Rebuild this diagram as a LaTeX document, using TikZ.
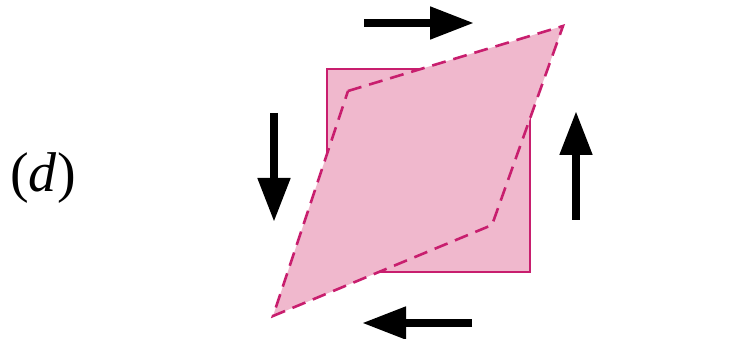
\documentclass[tikz,border=0pt]{standalone}
\usepackage{fontspec}
\setmainfont{Liberation Serif}
\usetikzlibrary{arrows.meta}
\definecolor{shearfill}{RGB}{240,184,205}
\definecolor{shearline}{RGB}{200,30,110}
\tikzset{
body/.style={
fill=shearfill,
draw=shearline,
line width=2pt
},
sheared/.style={
draw=shearline,
line width=2.6pt,
dash pattern=on 14pt off 8pt,
line join=miter
},
force/.style={
-{Triangle[length=44pt,width=31pt]},
line width=8pt,
black
}
}

\begin{document}
\begin{tikzpicture}[x=1pt,y=-1pt]
\useasboundingbox (0,0) rectangle (747,339);
% undeformed square
\coordinate (sq1) at (327,69);
\coordinate (sq2) at (530,272);
% sheared shape
\coordinate (tl) at (348,91);
\coordinate (tr) at (563,26);
\coordinate (br) at (492,225);
\coordinate (bl) at (273,316);

\draw[body] (sq1) rectangle (sq2);
\fill[shearfill] (tl)--(tr)--(br)--(bl)--cycle;
\draw[sheared] (tl)--(tr)--(br)--(bl)--cycle;

% shear forces
\coordinate (ta) at (364,23);
\coordinate (tb) at (474,23);
\coordinate (ba) at (472,323);
\coordinate (bb) at (362,323);
\coordinate (la) at (274,113);
\coordinate (lb) at (274,222);
\coordinate (ra) at (576,220);
\coordinate (rb) at (576,111);
\foreach \x/\y in {ta/tb,ba/bb,la/lb,ra/rb}
\draw[force](\x)--(\y);

\node[font=\fontsize{56}{66}\selectfont,inner sep=0pt] (lbl) at (43,178) {(\textit{d})};
\end{tikzpicture}
\end{document}
